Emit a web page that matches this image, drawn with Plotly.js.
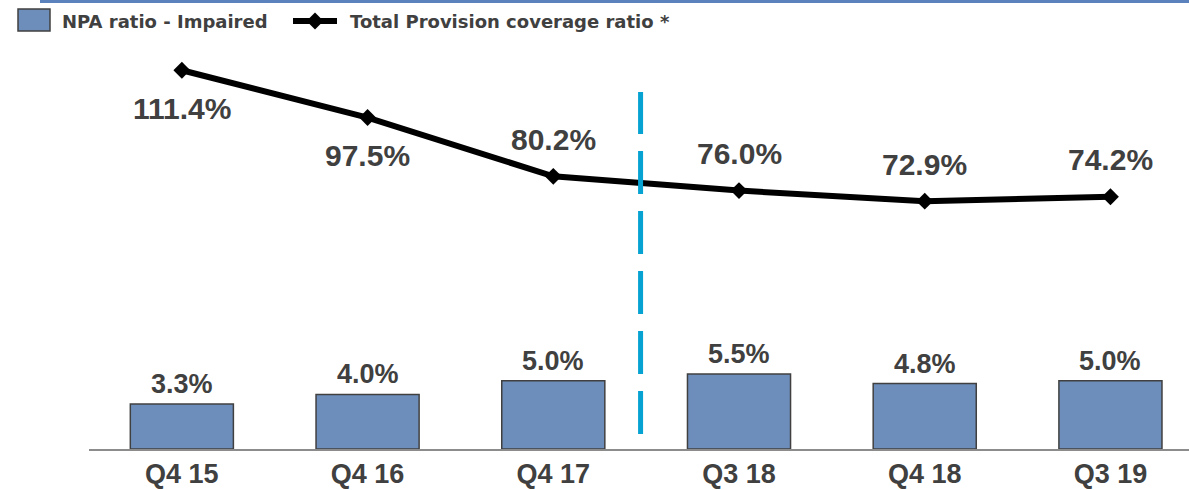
<!DOCTYPE html>
<html>
<head>
<meta charset="utf-8">
<script src="https://cdn.plot.ly/plotly-3.0.1.min.js"></script>
<style>
  html, body { margin: 0; padding: 0; background: #ffffff; }
  #chart { width: 1189px; height: 490px; }
</style>
</head>
<body>
<div id="chart"></div>
<script>
// ---- data ----
const categories = ['Q4 15', 'Q4 16', 'Q4 17', 'Q3 18', 'Q4 18', 'Q3 19'];
const npaRatio = [3.3, 4.0, 5.0, 5.5, 4.8, 5.0];
const coverageRatio = [111.4, 97.5, 80.2, 76.0, 72.9, 74.2];
const coverageLabelSide = ['below', 'below', 'above', 'above', 'above', 'above'];
const legendNames = ['NPA ratio - Impaired', 'Total Provision coverage ratio *'];

// ---- layout geometry (pixels) ----
const W = 1189, H = 490;
const M = { l: 89, r: 0, t: 40, b: 41 };
const PW = W - M.l - M.r, PH = H - M.t - M.b;
const px = X => (X - M.l) / PW;
const py = Y => (H - M.b - Y) / PH;

const textGrey = '#404040';
const barFill = '#6d8ebb';
const valueFont = { family: 'Liberation Sans, Arial, sans-serif', size: 30, color: textGrey, weight: 'bold' };
const barFont = { family: 'Liberation Sans, Arial, sans-serif', size: 27, color: textGrey, weight: 'bold' };
const tickFont = { family: 'Liberation Sans, Arial, sans-serif', size: 27, color: textGrey, weight: 'bold' };
const legendFont = { family: 'DejaVu Sans, sans-serif', size: 18, color: textGrey, weight: 'bold' };

const traces = [
  {
    type: 'bar', name: legendNames[0], x: categories, y: npaRatio, yaxis: 'y',
    width: 0.555,
    marker: { color: barFill, line: { color: textGrey, width: 1.5 } },
    hoverinfo: 'x+y'
  },
  {
    type: 'scatter', mode: 'lines+markers', name: legendNames[1], x: categories, y: coverageRatio, yaxis: 'y2',
    line: { color: '#000000', width: 6 },
    marker: { symbol: 'diamond', size: 13, color: '#000000' },
    hoverinfo: 'x+y'
  }
];

const annotations = [];
categories.forEach((c, i) => {
  annotations.push({
    x: c, y: coverageRatio[i], xref: 'x', yref: 'y2',
    text: coverageRatio[i].toFixed(1) + '%', showarrow: false,
    xanchor: 'center', yanchor: 'middle',
    yshift: coverageLabelSide[i] === 'below' ? -38 : 37,
    font: valueFont
  });
  annotations.push({
    x: c, y: npaRatio[i], xref: 'x', yref: 'y',
    text: npaRatio[i].toFixed(1) + '%', showarrow: false,
    xanchor: 'center', yanchor: 'middle', yshift: 20,
    font: barFont
  });
});
// legend texts
annotations.push({ xref: 'paper', yref: 'paper', x: px(60), y: py(21), xanchor: 'left', yanchor: 'middle',
  text: legendNames[0], showarrow: false, font: legendFont });
annotations.push({ xref: 'paper', yref: 'paper', x: px(348), y: py(21), xanchor: 'left', yanchor: 'middle',
  text: legendNames[1], showarrow: false, font: legendFont });

const diamond = (cx, cy, r) =>
  `M${px(cx)},${py(cy - r)} L${px(cx + r)},${py(cy)} L${px(cx)},${py(cy + r)} L${px(cx - r)},${py(cy)} Z`;

const shapes = [
  // top rule
  { type: 'rect', xref: 'paper', yref: 'paper', x0: px(40), x1: px(1189), y0: py(3), y1: py(0),
    fillcolor: '#5b82bc', line: { width: 0 } },
  // legend bar box
  { type: 'rect', xref: 'paper', yref: 'paper', x0: px(18), x1: px(50), y0: py(31), y1: py(9),
    fillcolor: barFill, line: { color: textGrey, width: 1.5 } },
  // legend line
  { type: 'line', xref: 'paper', yref: 'paper', x0: px(293), x1: px(337), y0: py(21), y1: py(21),
    line: { color: '#000000', width: 6 } },
  { type: 'path', xref: 'paper', yref: 'paper', path: diamond(315, 21, 8.5),
    fillcolor: '#000000', line: { color: '#000000', width: 0 } },
  // divider
  { type: 'line', xref: 'x', yref: 'paper', x0: 2.47, x1: 2.47, y0: py(434), y1: py(92),
    line: { color: '#06a3d2', width: 5, dash: '43px,17px' } }
];

const layout = {
  width: W, height: H,
  margin: M,
  paper_bgcolor: '#ffffff', plot_bgcolor: '#ffffff',
  showlegend: false,
  xaxis: {
    type: 'category', range: [-0.5, 5.423],
    showline: true, linecolor: '#8c8c8c', linewidth: 2,
    showgrid: false, zeroline: false, ticks: '',
    tickfont: tickFont, fixedrange: true
  },
  yaxis: { range: [0, 30], visible: false, fixedrange: true },
  yaxis2: { range: [0, 120.3], overlaying: 'y', visible: false, fixedrange: true },
  annotations: annotations,
  shapes: shapes
};

Plotly.newPlot('chart', traces, layout, { displayModeBar: false, staticPlot: true });
</script>
</body>
</html>
